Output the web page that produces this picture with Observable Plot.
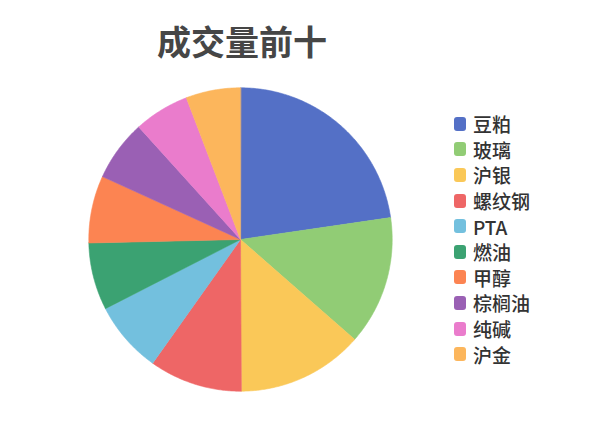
<!DOCTYPE html>
<html>
<head>
<meta charset="utf-8">
<script src="https://cdn.jsdelivr.net/npm/d3@7"></script>
<script src="https://cdn.jsdelivr.net/npm/@observablehq/plot@0.6"></script>
<style>
  html, body { margin: 0; padding: 0; background: #fff; }
  #wrap { position: relative; width: 600px; height: 428px; overflow: hidden; font-family: "Noto Sans CJK SC", "Noto Sans", sans-serif; }
  #title { width: 484px; height: 80px; line-height: 82px; text-align: center; font-size: 34px; font-weight: bold; color: #464646; }
  #legend { position: absolute; left: 454px; top: 111px; }
  .item { display: flex; align-items: center; height: 25.6px; font-size: 19px; font-weight: 500; color: #333; }
  .sw { width: 12px; height: 14px; border-radius: 3px; margin-right: 7px; flex: none; }
</style>
</head>
<body>
<div id="wrap">
  <div id="title"></div>
  <div id="chart"></div>
  <div id="legend"></div>
</div>
<script>
const titleText = "成交量前十";
const categories = ["豆粕", "玻璃", "沪银", "螺纹钢", "PTA", "燃油", "甲醇", "棕榈油", "纯碱", "沪金"];
const values = [22.7, 13.75, 13.47, 9.92, 7.64, 7.17, 7.17, 6.5, 5.89, 5.81];
const colors = ["#5470c6", "#91cc75", "#fac858", "#ee6666", "#73c0de", "#3ba272", "#fc8452", "#9a60b4", "#ea7ccc", "#fcb65c"];

document.getElementById("title").textContent = titleText;

const table = categories.map((name, i) => ({name, value: values[i]}));
const arcs = d3.pie().sort(null).value(d => d.value)(table);

// Build slice outlines in unit-circle coordinates (angle clockwise from top)
const pts = [];
for (const a of arcs) {
  const name = a.data.name;
  pts.push({name, x: 0, y: 0});
  const n = Math.max(2, Math.ceil((a.endAngle - a.startAngle) / (Math.PI / 360)));
  for (let k = 0; k <= n; k++) {
    const t = a.startAngle + (a.endAngle - a.startAngle) * k / n;
    pts.push({name, x: Math.sin(t), y: Math.cos(t)});
  }
}

const W = 600, H = 348, cx = 240, cy = 159, R = 151.7;
const chart = Plot.plot({
  width: W,
  height: H,
  marginLeft: cx - R,
  marginRight: W - (cx + R),
  marginTop: cy - R,
  marginBottom: H - (cy + R),
  x: {domain: [-1, 1], axis: null},
  y: {domain: [-1, 1], axis: null},
  color: {domain: categories, range: colors},
  marks: [
    Plot.line(pts, {x: "x", y: "y", z: "name", fill: "name", stroke: "name", strokeWidth: 0.6, curve: "linear-closed"})
  ]
});
document.getElementById("chart").appendChild(chart);

const legend = document.getElementById("legend");
categories.forEach((name, i) => {
  const row = document.createElement("div");
  row.className = "item";
  const sw = document.createElement("span");
  sw.className = "sw";
  sw.style.background = colors[i];
  const label = document.createElement("span");
  label.textContent = name;
  row.appendChild(sw);
  row.appendChild(label);
  legend.appendChild(row);
});
</script>
</body>
</html>
